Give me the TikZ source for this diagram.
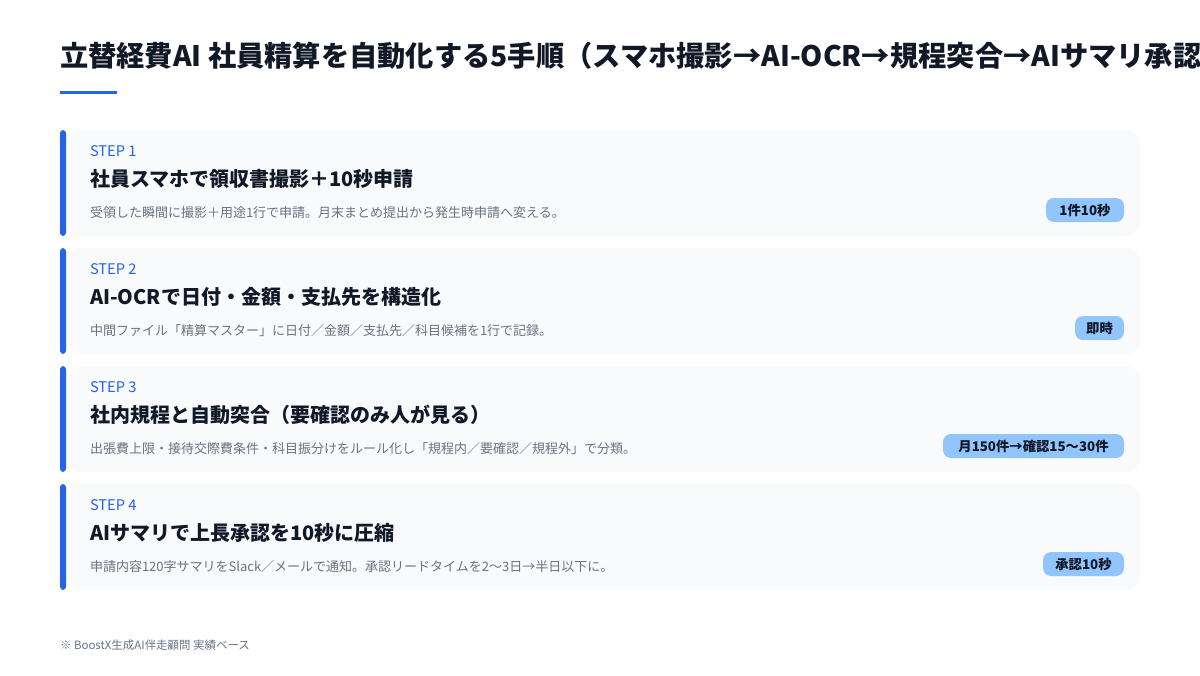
\documentclass[tikz,border=0pt]{standalone}
\usepackage{fontspec}
\setmainfont{Noto Sans CJK JP}
\usepackage{tikz}
\usetikzlibrary{positioning}

\definecolor{inkdark}{HTML}{111827}
\definecolor{accent}{HTML}{2563EB}
\definecolor{cardbg}{HTML}{F8FAFC}
\definecolor{descgray}{HTML}{6B7280}
\definecolor{badgefill}{HTML}{93C5FD}
\definecolor{notegray}{HTML}{64748B}

\begin{document}
\begin{tikzpicture}[x=0.75pt,y=-0.75pt,
  every node/.style={inner sep=0pt,outer sep=0pt},
  title/.style={anchor=base west,text=inkdark,font=\fontsize{21.2}{26}\selectfont\bfseries},
  steplbl/.style={anchor=base west,text=accent,font=\fontsize{11}{13}\selectfont},
  head/.style={anchor=base west,text=inkdark,font=\fontsize{15}{18}\selectfont\bfseries},
  desc/.style={anchor=base west,text=descgray,font=\fontsize{9.75}{12}\selectfont},
  badge/.style={text=inkdark,font=\fontsize{10}{12}\selectfont\bfseries},
  note/.style={anchor=base west,text=notegray,font=\fontsize{8.6}{10}\selectfont}]
\useasboundingbox (0,0) rectangle (1200,675);
\clip (0,0) rectangle (1200,675);

% title
\node [title] (ttl) at (60,66) {立替経費AI 社員精算を自動化する5手順（スマホ撮影→AI-OCR→規程突合→AIサマリ承認）};
\fill [accent] (60,91) rectangle (117,94);

% step 1
\fill [cardbg,rounded corners=10] (68,130) rectangle (1140,236);
\fill [accent,rounded corners=2.5] (60,130) rectangle (66,236);
\node [steplbl] (s1) at (90,156) {STEP 1};
\node [head] (h1) at (90,186) {社員スマホで領収書撮影＋10秒申請};
\node [desc] (d1) at (90,217) {受領した瞬間に撮影＋用途1行で申請。月末まとめ提出から発生時申請へ変える。};
\fill [badgefill,rounded corners=6] (1046,198) rectangle (1124,222);
\node [badge] (b1) at (1085,210) {1件10秒};

% step 2
\fill [cardbg,rounded corners=10] (68,248) rectangle (1140,354);
\fill [accent,rounded corners=2.5] (60,248) rectangle (66,354);
\node [steplbl] (s2) at (90,274) {STEP 2};
\node [head] (h2) at (90,304) {AI-OCRで日付・金額・支払先を構造化};
\node [desc] (d2) at (90,335) {中間ファイル「精算マスター」に日付／金額／支払先／科目候補を1行で記録。};
\fill [badgefill,rounded corners=6] (1075,316) rectangle (1124,340);
\node [badge] (b2) at (1099.5,328) {即時};

% step 3
\fill [cardbg,rounded corners=10] (68,366) rectangle (1140,472);
\fill [accent,rounded corners=2.5] (60,366) rectangle (66,472);
\node [steplbl] (s3) at (90,392) {STEP 3};
\node [head] (h3) at (90,422) {社内規程と自動突合（要確認のみ人が見る）};
\node [desc] (d3) at (90,453) {出張費上限・接待交際費条件・科目振分けをルール化し「規程内／要確認／規程外」で分類。};
\fill [badgefill,rounded corners=6] (943,434) rectangle (1124,458);
\node [badge] (b3) at (1033.5,446) {月150件→確認15〜30件};

% step 4
\fill [cardbg,rounded corners=10] (68,484) rectangle (1140,590);
\fill [accent,rounded corners=2.5] (60,484) rectangle (66,590);
\node [steplbl] (s4) at (90,510) {STEP 4};
\node [head] (h4) at (90,540) {AIサマリで上長承認を10秒に圧縮};
\node [desc] (d4) at (90,571) {申請内容120字サマリをSlack／メールで通知。承認リードタイムを2〜3日→半日以下に。};
\fill [badgefill,rounded corners=6] (1043,552) rectangle (1124,576);
\node [badge] (b4) at (1083.5,564) {承認10秒};

% footnote
\node [note] (fn) at (60,649) {※ BoostX生成AI伴走顧問 実績ベース};
\end{tikzpicture}
\end{document}
